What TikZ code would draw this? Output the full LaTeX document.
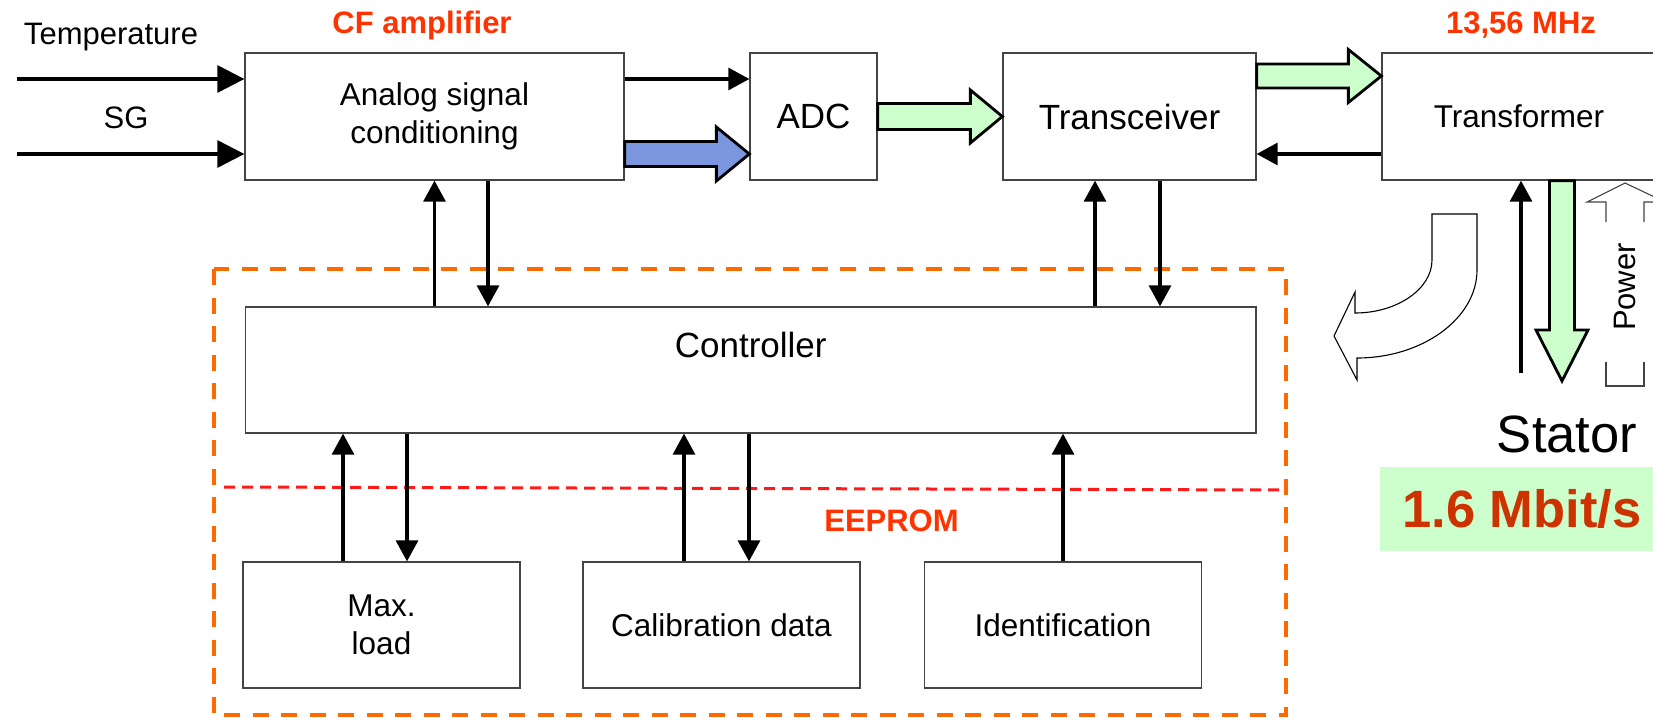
\documentclass[tikz,border=0pt]{standalone}
\usepackage{fontspec}
\setmainfont{Liberation Sans}
\usetikzlibrary{arrows.meta,calc}

\definecolor{boxgray}{HTML}{444444}
\definecolor{hot}{HTML}{FF3300}
\definecolor{rate}{HTML}{CC3300}
\definecolor{mint}{HTML}{CCFFCC}
\definecolor{steel}{HTML}{7B96DE}
\definecolor{dashorange}{HTML}{FF6A00}
\definecolor{dashred}{HTML}{FF1A1A}

\tikzset{
  blk/.style={draw=boxgray, line width=1.3pt, fill=white, inner sep=0pt,
    align=center, minimum height=127pt, font=\fontsize{31.5pt}{38pt}\selectfont},
  bigblk/.style={blk, font=\fontsize{35pt}{42pt}\selectfont},
  sig/.style={line width=3.1pt, -{Triangle[length=21pt,width=22pt]}},
  insig/.style={line width=3.1pt, -{Triangle[length=27pt,width=27pt]}},
  blockline/.style={draw=black, line width=2.8pt, line join=miter},
  outline/.style={draw=black, line width=1.1pt, line join=miter},
  txt/.style={inner sep=0pt, font=\fontsize{31pt}{37pt}\selectfont},
  hottxt/.style={inner sep=0pt, text=hot, font=\fontsize{31pt}{37pt}\selectfont\bfseries},
}

% horizontal block arrow: from #1 to #2, shaft half width #3, head half width #4, head length #5, fill #6
\newcommand{\flowarrowH}[6]{%
  \path[blockline, fill=#6] let \p1=(#1), \p2=(#2) in
    (\x1,\y1+#3pt) -- (\x2-#5pt,\y1+#3pt) -- (\x2-#5pt,\y1+#4pt) -- (\x2,\y1)
    -- (\x2-#5pt,\y1-#4pt) -- (\x2-#5pt,\y1-#3pt) -- (\x1,\y1-#3pt) -- cycle;}
% downward block arrow: from #1 to the height of #2
\newcommand{\flowarrowV}[6]{%
  \path[blockline, fill=#6] let \p1=(#1), \p2=(#2) in
    (\x1+#3pt,\y1) -- (\x1+#3pt,\y2+#5pt) -- (\x1+#4pt,\y2+#5pt) -- (\x1,\y2)
    -- (\x1-#4pt,\y2+#5pt) -- (\x1-#3pt,\y2+#5pt) -- (\x1-#3pt,\y1) -- cycle;}

\begin{document}
\begin{tikzpicture}[x=1pt,y=-1pt]
\useasboundingbox (0,0) rectangle (1653,717);

% EEPROM / controller frame
\draw[dashorange, line width=4.2pt, dash pattern=on 16pt off 12.5pt] (214,269) rectangle (1286,715);
\draw[dashred, line width=3pt, dash pattern=on 11pt off 7pt] (224,487) -- (1286,490);

% blocks
\node[blk, minimum width=379pt] (asc) at (434.5,116.5) {Analog signal\\conditioning};
\node[bigblk, minimum width=127pt] (adc) at (813.5,116.5) {ADC};
\node[bigblk, minimum width=253pt] (trx) at (1129.5,116.5) {Transceiver};
\node[blk, minimum width=274pt] (tfm) at (1519,116.5) {Transformer};
\node[blk, minimum width=1010.5pt, minimum height=126pt,
      label={[font=\fontsize{35pt}{42pt}\selectfont, yshift=25pt]center:Controller}] (ctrl) at (750.75,370) {};
\node[blk, minimum width=277pt, minimum height=126pt] (maxl) at (381.5,625) {Max.\\load};
\node[blk, minimum width=277pt, minimum height=126pt] (cal) at (721.5,625) {Calibration data};
\node[blk, minimum width=277pt, minimum height=126pt] (ident) at (1063,625) {Identification};

% labels
\node[txt] (templbl) at (111,37) {Temperature};
\node[txt] (sglbl) at (126,118) {SG};
\node[hottxt] (cflbl) at (422,25) {CF amplifier};
\node[hottxt] (freqlbl) at (1521,25) {13,56 MHz};
\node[hottxt] (eelbl) at (891.5,521) {EEPROM};

% sensor inputs
\coordinate (tin) at (17,79);
\coordinate (sgin) at (17,154);
\draw[insig] (tin) -- (tin -| asc.west);
\draw[insig] (sgin) -- (sgin -| asc.west);

% signal path
\draw[sig] ([yshift=37.5pt]asc.east) -- ([yshift=37.5pt]asc.east -| adc.west);
\flowarrowH{[yshift=-37.5pt]asc.east}{[yshift=-37.5pt]asc.east -| adc.west}{12.5}{27}{33}{steel}
\flowarrowH{adc.east}{adc.east -| trx.west}{13}{26.5}{32}{mint}
\flowarrowH{[yshift=40.5pt]trx.east}{[yshift=40.5pt]trx.east -| tfm.west}{12}{26.5}{33}{mint}
\draw[sig] ([yshift=-37.5pt]tfm.west) -- ([yshift=-37.5pt]tfm.west -| trx.east);

% controller links
\draw[sig] (ctrl.north -| asc.south) -- (asc.south);
\draw[sig] ([xshift=53.5pt]asc.south) -- ([xshift=53.5pt]asc.south |- ctrl.north);
\draw[sig] ([xshift=-34.5pt]trx.south |- ctrl.north) -- ([xshift=-34.5pt]trx.south);
\draw[sig] ([xshift=30.5pt]trx.south) -- ([xshift=30.5pt]trx.south |- ctrl.north);
\draw[sig] ([xshift=-38.5pt]maxl.north) -- ([xshift=-38.5pt]maxl.north |- ctrl.south);
\draw[sig] ([xshift=25.5pt]maxl.north |- ctrl.south) -- ([xshift=25.5pt]maxl.north);
\draw[sig] ([xshift=-37.5pt]cal.north) -- ([xshift=-37.5pt]cal.north |- ctrl.south);
\draw[sig] ([xshift=27.5pt]cal.north |- ctrl.south) -- ([xshift=27.5pt]cal.north);
\draw[sig] (ident.north) -- (ident.north |- ctrl.south);

% stator side
\coordinate (upfoot) at (1521,373);
\draw[sig] (upfoot) -- (upfoot |- tfm.south);
\coordinate (gtip) at (1562,381);
\flowarrowV{gtip |- tfm.south}{gtip}{12.5}{26}{51}{mint}

% power arrow (outline, broken by its label)
\draw[outline, draw=boxgray] (1606,222) -- (1606,202) -- (1587,202) -- (1625,183) -- (1665,202) -- (1644,202) -- (1644,222);
\draw[outline, draw=boxgray] (1606,362) -- (1606,386) -- (1644,386) -- (1644,362);
\node[txt, rotate=90] (powerlbl) at (1625,287) {Power};

% returning field arrow
\draw[outline, fill=white] (1432,214) -- (1477,214) -- (1477,270)
  .. controls (1477,318) and (1423,358) .. (1357,358) -- (1357,380) -- (1334,336)
  -- (1355,292) -- (1355,313) .. controls (1397,313) and (1432,289) .. (1432,260) -- cycle;

\node[inner sep=0pt, font=\fontsize{52.5pt}{60pt}\selectfont] (stator) at (1567,434) {Stator};
\fill[mint] (1380,467) rectangle (1660,551);
\node[inner sep=0pt, text=rate, font=\fontsize{52.5pt}{60pt}\selectfont\bfseries] (ratelbl) at (1522,509) {1.6 Mbit/s};
\end{tikzpicture}
\end{document}
